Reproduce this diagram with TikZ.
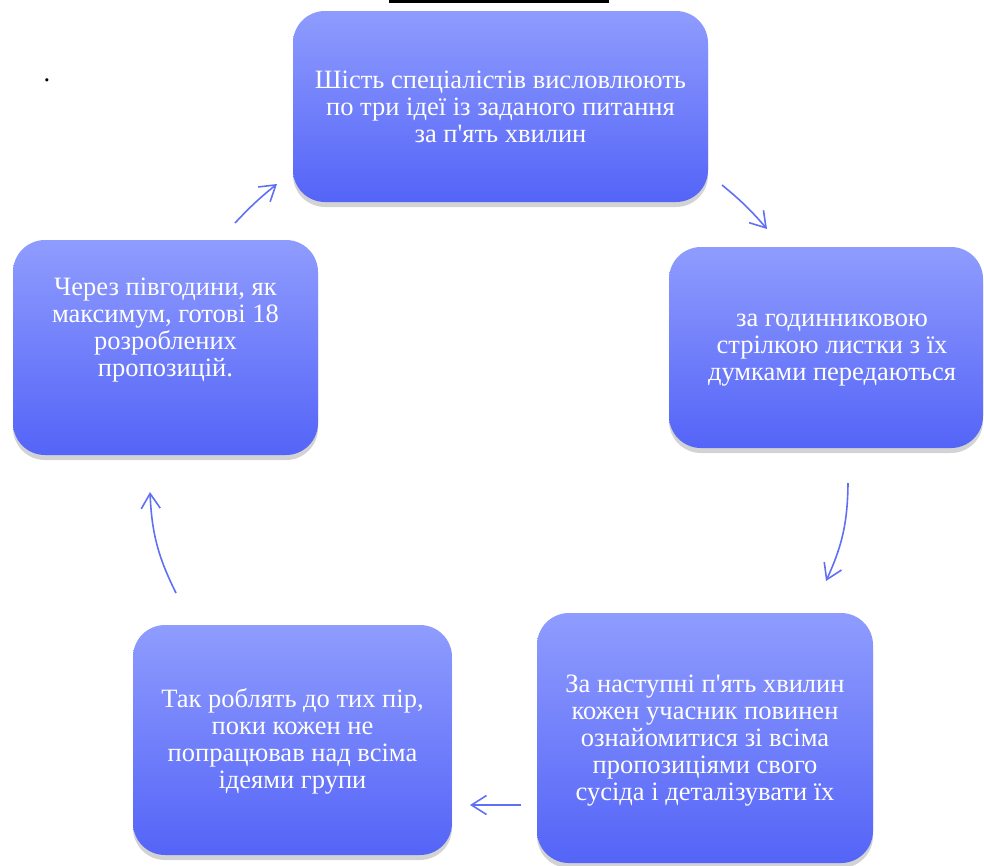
\documentclass[tikz,border=0pt]{standalone}
\usepackage{fontspec}
\setmainfont{Liberation Serif}[Ligatures=TeXOff]
\usepackage{tikz}
\usetikzlibrary{arrows.meta,shadows}

\definecolor{boxtop}{RGB}{143,156,254}
\definecolor{boxbottom}{RGB}{84,100,247}
\definecolor{arrowblue}{RGB}{96,112,245}

\begin{document}
\begin{tikzpicture}[%
  x=1pt, y=-1pt,
  stage/.style={rounded corners=32pt, top color=boxtop, bottom color=boxbottom,
    drop shadow={opacity=0.35, shadow xshift=0pt, shadow yshift=-5pt}, inner sep=0pt},
  stagetext/.style={text=white, align=center, inner sep=0pt,
    font=\fontsize{26.5}{27}\selectfont},
  cyclearrow/.style={draw=arrowblue, line width=1.6pt,
    -{Straight Barb[length=15pt,width=19pt]}}]
  \useasboundingbox (0,0) rectangle (984,865);
  \fill (389,0) rectangle (609,3);
  \node[inner sep=0pt, font=\fontsize{26.5}{27}\selectfont] (dot) at (47,80) {.};
  % the five steps
  \node[stage, minimum width=415pt, minimum height=191pt] (ideas) at (500.5,106.5) {};
  \node[stage, minimum width=314pt, minimum height=201pt] (pass) at (826,347.5) {};
  \node[stage, minimum width=336pt, minimum height=250pt] (read) at (705,738) {};
  \node[stage, minimum width=319pt, minimum height=230pt] (repeat) at (292.5,740) {};
  \node[stage, minimum width=305pt, minimum height=215pt] (result) at (165.5,347.5) {};
  \node[stagetext] (ideastext) at ([yshift=0pt]ideas.center)
    {Шість спеціалістів висловлюють\\по три ідеї із заданого питання\\за п'ять хвилин};
  \node[stagetext] (passtext) at ([xshift=6pt,yshift=-3pt]pass.center)
    {за годинниковою\\стрілкою листки з їх\\думками передаються};
  \node[stagetext] (readtext) at ([yshift=-3pt]read.center)
    {За наступні п'ять хвилин\\кожен учасник повинен\\ознайомитися зі всіма\\пропозиціями свого\\сусіда і деталізувати їх};
  \node[stagetext] (repeattext) at ([yshift=-1pt]repeat.center)
    {Так роблять до тих пір,\\поки кожен не\\попрацював над всіма\\ідеями групи};
  \node[stagetext] (resulttext) at ([yshift=17pt]result.center)
    {Через півгодини, як\\максимум, готові 18\\розроблених\\пропозицій.};
  % arrows between the steps
  \coordinate (a1) at (722,185);
  \coordinate (b1) at (767,229);
  \coordinate (a2) at (848,483);
  \coordinate (b2) at (826,581);
  \coordinate (a3) at (521,805);
  \coordinate (b3) at (470,805);
  \coordinate (a4) at (176,593);
  \coordinate (b4) at (150,492);
  \coordinate (a5) at (235,223);
  \coordinate (b5) at (277,184);
  \draw[cyclearrow] (a1) to[bend left=5] (b1);
  \draw[cyclearrow] (a2) to[bend left=12] (b2);
  \draw[cyclearrow] (a3) -- (b3);
  \draw[cyclearrow] (a4) to[bend left=12] (b4);
  \draw[cyclearrow] (a5) to[bend left=4] (b5);
\end{tikzpicture}
\end{document}
